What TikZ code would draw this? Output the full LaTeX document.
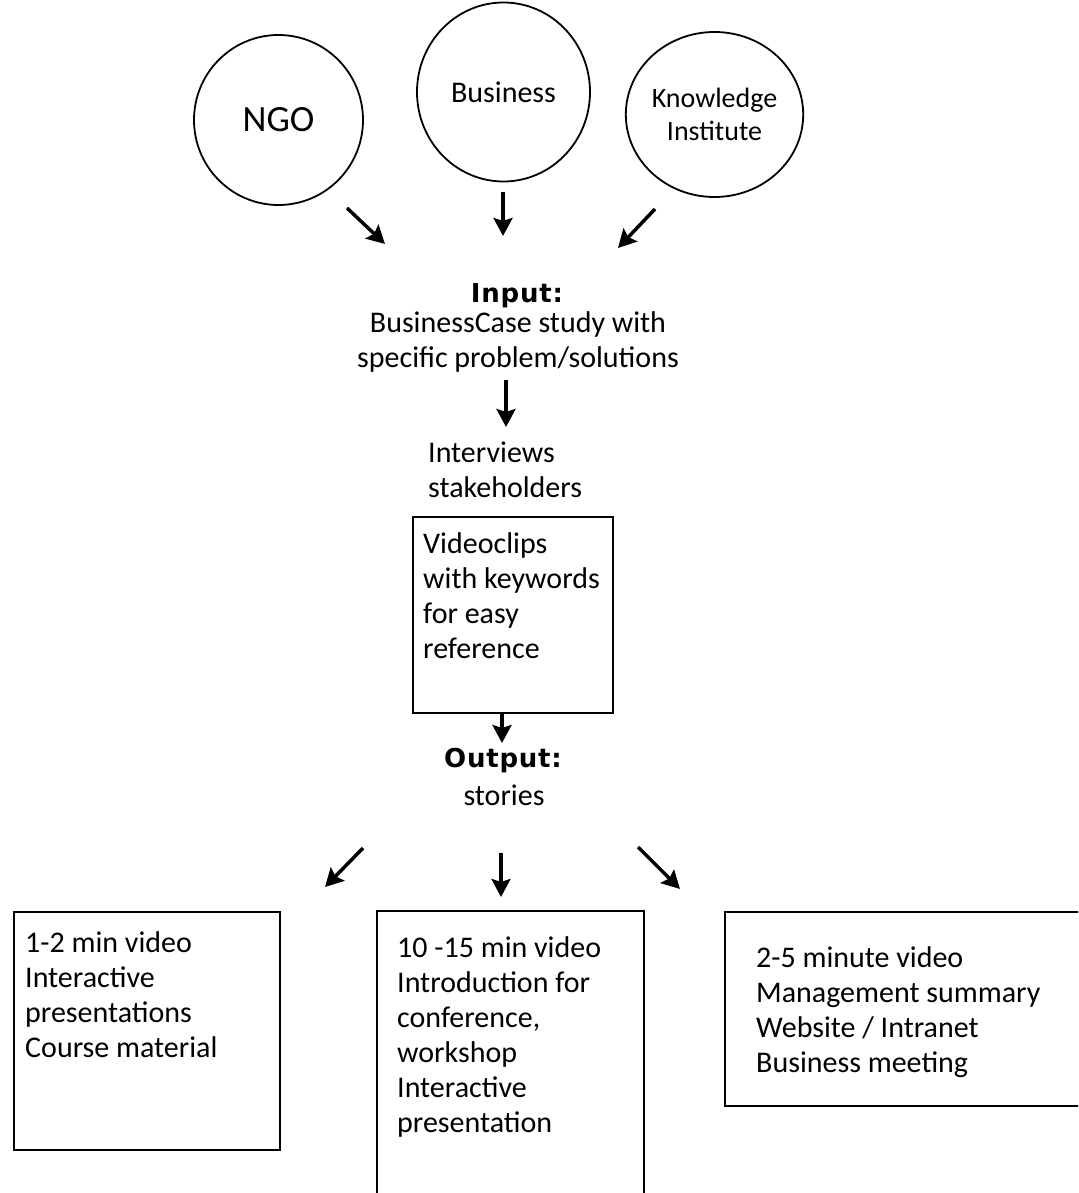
\documentclass[tikz,border=0pt]{standalone}
\usepackage{fontspec}
\setmainfont{Carlito}
\newfontfamily\headfont[LetterSpace=3.0]{DejaVu Sans}
\usetikzlibrary{arrows.meta,shapes.geometric}
\begin{document}
\begin{tikzpicture}[x=1pt,y=-1pt,
  party/.style={draw, line width=1.8pt, ellipse, inner sep=0pt, align=center},
  flow/.style={line width=3.5pt, -{Stealth[length=18pt,width=19pt,inset=3pt]}},
  box/.style={draw, line width=2pt, inner sep=0pt, anchor=north west},
  txt/.style={inner sep=0pt, align=left, anchor=base west, font=\fontsize{30}{35}\selectfont},
  ctxt/.style={inner sep=0pt, align=center, anchor=base, font=\fontsize{30}{35}\selectfont},
  head/.style={inner sep=0pt, anchor=base, font=\headfont\bfseries\fontsize{26}{30}\selectfont}]
\useasboundingbox (0,0) rectangle (1078,1193);
\clip (0,0) rectangle (1078,1193);

% stakeholder circles
\node[party, minimum width=169pt, minimum height=170pt, font=\fontsize{37}{40}\selectfont] (ngo) at (278.5,120) {NGO};
\node[party, minimum width=173pt, minimum height=179pt, font=\fontsize{30}{33}\selectfont] (bus) at (503.5,92) {Business};
\node[party, minimum width=169pt, minimum height=165pt, font=\fontsize{28}{33}\selectfont] (kni) at (714.5,114.5) {Knowledge\\Institute};

\coordinate (ngoA) at (347,208); \coordinate (ngoB) at (385,244);
\coordinate (busA) at (503,192); \coordinate (busB) at (503,236);
\coordinate (kniA) at (655,209); \coordinate (kniB) at (618,248);
\draw[flow] (ngoA) -- (ngoB);
\draw[flow] (busA) -- (busB);
\draw[flow] (kniA) -- (kniB);

% input (multi-line nodes are placed by the baseline of their last line)
\node[head] (inhead) at (517,302) {Input:};
\node[ctxt] (incase) at (518,367) {BusinessCase study with\\specific problem/solutions};
\coordinate (inA) at (506,380); \coordinate (inB) at (506,427);
\draw[flow] (inA) -- (inB);
\node[txt] (intv) at (428,497) {Interviews\\stakeholders};

% video clips box
\node[box, minimum width=200pt, minimum height=196pt] (vbox) at (412,516) {};
\node[txt] (vtxt) at (423,658) {Videoclips\\with keywords\\for easy\\reference};
\coordinate (vA) at (502,712); \coordinate (vB) at (502,743);
\draw[flow] (vA) -- (vB);

% output
\node[head] (outhead) at (503,767) {Output:};
\node[ctxt] (stor) at (504,805) {stories};

\coordinate (l1) at (363,848); \coordinate (l2) at (325,887);
\coordinate (m1) at (501,853); \coordinate (m2) at (501,897);
\coordinate (r1) at (638,847); \coordinate (r2) at (680,889);
\draw[flow] (l1) -- (l2);
\draw[flow] (m1) -- (m2);
\draw[flow] (r1) -- (r2);

% output boxes
\node[box, minimum width=266pt, minimum height=238pt] (lbox) at (13,911) {};
\node[box, minimum width=267pt, minimum height=300pt] (mbox) at (376,910) {};
\node[box, minimum width=380pt, minimum height=194pt] (rbox) at (724,911) {};

\node[txt] (ltxt) at (25,1057) {1-2 min video\\Interactive\\presentations\\Course material};
\node[txt] (mtxt) at (397,1132) {10 -15 min video\\Introduction for\\conference,\\workshop\\Interactive\\presentation};
\node[txt] (rtxt) at (756,1072) {2-5 minute video\\Management summary\\Website / Intranet\\Business meeting};
\end{tikzpicture}
\end{document}
